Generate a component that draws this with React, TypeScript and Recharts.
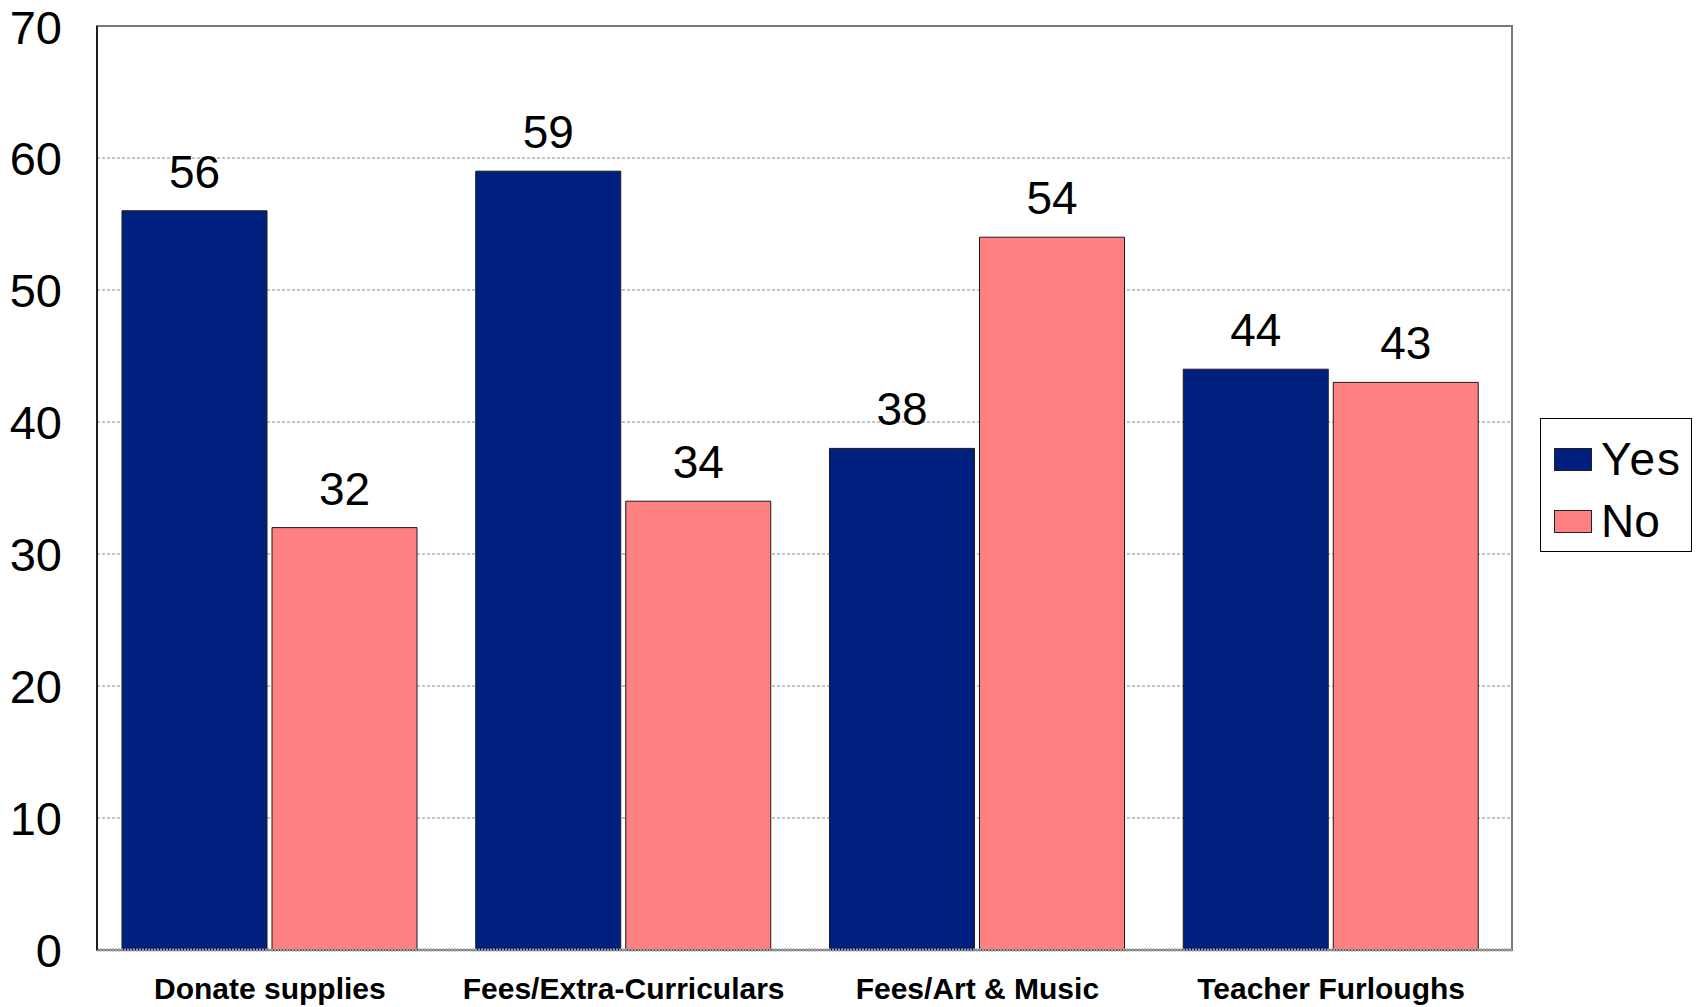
import React from 'react';
import {
  BarChart,
  Bar,
  XAxis,
  YAxis,
  CartesianGrid,
  Legend,
  LabelList,
  ReferenceArea,
} from 'recharts';

const categories = [
  'Donate supplies',
  'Fees/Extra-Curriculars',
  'Fees/Art & Music',
  'Teacher Furloughs',
];
const yesValues = [56, 59, 38, 44];
const noValues = [32, 34, 54, 43];
const yTicks = [0, 10, 20, 30, 40, 50, 60, 70];

const data = categories.map((name, i) => ({
  name,
  yes: yesValues[i],
  no: noValues[i],
}));

const YES_COLOR = '#00207F';
const NO_COLOR = '#FF8080';
const FONT = '"Liberation Sans", Arial, sans-serif';

function LegendBox() {
  const items = [
    { label: 'Yes', color: YES_COLOR },
    { label: 'No', color: NO_COLOR },
  ];
  return (
    <div
      style={{
        width: 152,
        height: 134,
        border: '1px solid #000',
        background: '#fff',
        boxSizing: 'border-box',
        paddingTop: 14,
      }}
    >
      {items.map((it) => (
        <div
          key={it.label}
          style={{
            display: 'flex',
            alignItems: 'center',
            height: 68,
            marginTop: it.label === 'Yes' ? -8 : -6,
          }}
        >
          <div
            style={{
              width: 38,
              height: 23,
              marginLeft: 13,
              background: it.color,
              border: '1px solid #222',
              boxSizing: 'border-box',
            }}
          />
          <span
            style={{
              fontFamily: FONT,
              fontSize: 46,
              marginLeft: 9,
              color: '#000',
              lineHeight: 1,
              letterSpacing: it.label === 'Yes' ? 2 : 0,
            }}
          >
            {it.label}
          </span>
        </div>
      ))}
    </div>
  );
}

export default function App() {
  return (
    <div style={{ position: 'absolute', left: 0, top: 0, background: '#fff' }}>
      <BarChart
        width={1703}
        height={1007}
        data={data}
        margin={{ top: 26, right: 191, bottom: 0, left: 0 }}
        barSize={145}
        barGap={5}
      >
        <CartesianGrid
          vertical={false}
          stroke="#8a8a8a"
          strokeDasharray="3 2"
        />
        <XAxis xAxisId="frame" dataKey="name" hide />
        <ReferenceArea
          xAxisId="frame"
          y1={0}
          y2={70}
          fill="none"
          stroke="#7a7a7a"
          strokeWidth={2}
          ifOverflow="visible"
        />
        <XAxis
          dataKey="name"
          height={57}
          padding={{ left: -4, right: 4 }}
          tickLine={false}
          tickSize={0}
          tickMargin={28}
          axisLine={{ stroke: '#9a9a9a', strokeWidth: 3, strokeDasharray: '2 1' }}
          tick={{
            fontFamily: FONT,
            fontWeight: 'bold',
            fontSize: 30,
            fill: '#000',
          }}
          interval={0}
        />
        <YAxis
          domain={[0, 70]}
          ticks={yTicks}
          width={97}
          tickLine={false}
          tickSize={0}
          tickMargin={35}
          axisLine={{ stroke: '#000', strokeWidth: 1.5 }}
          tick={{ fontFamily: FONT, fontSize: 47, fill: '#000' }}
        />
        <Legend
          layout="horizontal"
          verticalAlign="middle"
          align="center"
          content={() => <LegendBox />}
          wrapperStyle={{ left: 1540, top: 418, width: 152, height: 134 }}
        />
        <Bar
          dataKey="yes"
          name="Yes"
          fill={YES_COLOR}
          stroke="#1a1a1a"
          strokeWidth={1}
          isAnimationActive={false}
        >
          <LabelList
            dataKey="yes"
            position="top"
            offset={23}
            style={{ fontFamily: FONT, fontSize: 46, fill: '#000' }}
          />
        </Bar>
        <Bar
          dataKey="no"
          name="No"
          fill={NO_COLOR}
          stroke="#1a1a1a"
          strokeWidth={1}
          isAnimationActive={false}
        >
          <LabelList
            dataKey="no"
            position="top"
            offset={23}
            style={{ fontFamily: FONT, fontSize: 46, fill: '#000' }}
          />
        </Bar>
      </BarChart>
    </div>
  );
}
